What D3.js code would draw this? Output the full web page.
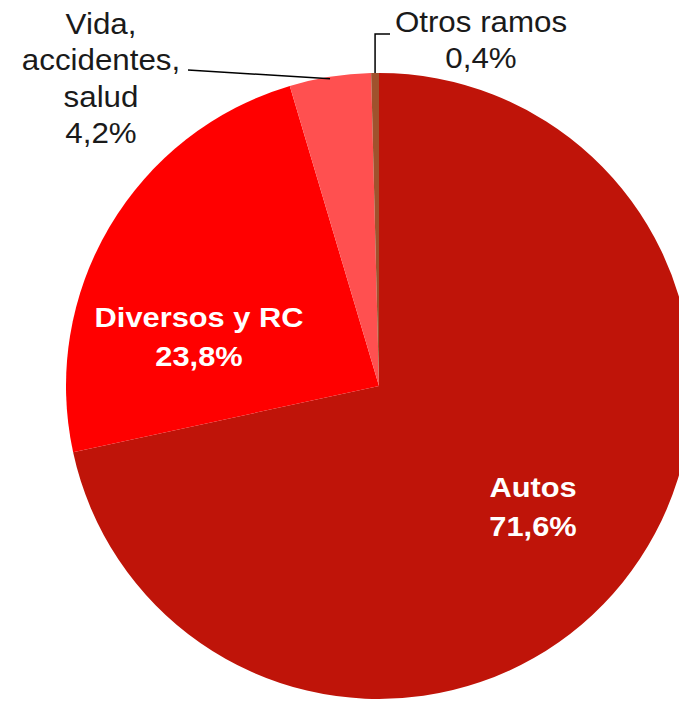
<!DOCTYPE html>
<html lang="es">
<head>
<meta charset="UTF-8">
<title>Distribución por ramos</title>
<script src="https://d3js.org/d3.v7.min.js"></script>
<style>
  body { margin: 0; background: #fff; }
  svg { display: block; font-family: 'Liberation Sans', Arial, sans-serif; }
</style>
</head>
<body>
<svg id="chart" width="679" height="701"></svg>
<script>
// data
const categories = ["Autos", "Diversos y RC", "Vida, accidentes, salud", "Otros ramos"];
const shares = [71.6, 23.8, 4.2, 0.4];
const colors = ["#BF1409", "#FF0000", "#FF5050", "#A0522D"];

const width = 679, height = 701;
const cx = 379, cy = 386, radius = 313;

const svg = d3.select("#chart");
const g = svg.append("g").attr("transform", `translate(${cx},${cy})`);

const pie = d3.pie().sort(null).value(d => d.v);
const arc = d3.arc().innerRadius(0).outerRadius(radius);
const slices = pie(categories.map((c, i) => ({ name: c, v: shares[i], color: colors[i] })));

g.selectAll("path.slice")
  .data(slices)
  .enter()
  .append("path")
  .attr("class", "slice")
  .attr("d", arc)
  .attr("fill", d => d.data.color);

const fmt = v => v.toFixed(1).replace(".", ",") + "%";

// label block: text is a bit wider in the original, so stretch it horizontally
function label(l, opts) {
  const t = svg.append("text")
    .attr("transform", `translate(${l.x},${l.y}) scale(${opts.sx},1)`)
    .attr("text-anchor", "middle")
    .attr("fill", opts.fill)
    .attr("font-weight", opts.weight)
    .attr("font-size", opts.size);
  l.lines.concat([fmt(shares[l.i])]).forEach((s, k) => {
    t.append("tspan").attr("x", 0).attr("y", k * opts.lh).text(s);
  });
}

// inside labels (bold white)
[
  { i: 0, x: 533, y: 497, lines: ["Autos"] },
  { i: 1, x: 199, y: 327, lines: ["Diversos y RC"] }
].forEach(l => label(l, { fill: "#fff", weight: "bold", size: 28, sx: 1.1, lh: 39 }));

// outside labels
[
  { i: 2, x: 101, y: 34, lines: ["Vida,", "accidentes,", "salud"] },
  { i: 3, x: 481, y: 32, lines: ["Otros ramos"] }
].forEach(l => label(l, { fill: "#1a1a1a", weight: "normal", size: 29, sx: 1.08, lh: 36.5 }));

// leader lines, anchored on the slice edge
const edge = (s, frac) => {
  const a = s.startAngle + (s.endAngle - s.startAngle) * frac;
  return [cx + radius * Math.sin(a), cy - radius * Math.cos(a)];
};
const pVida = edge(slices[2], 0.5);
const pOtros = edge(slices[3], 0.5);
svg.append("path")
  .attr("d", `M${pVida[0]},${pVida[1] + 2}L188,70`)
  .attr("fill", "none").attr("stroke", "#000").attr("stroke-width", 1.5);
svg.append("path")
  .attr("d", `M${pOtros[0]},${pOtros[1]}L${pOtros[0]},34L390,34`)
  .attr("fill", "none").attr("stroke", "#000").attr("stroke-width", 1.5);
</script>
</body>
</html>
